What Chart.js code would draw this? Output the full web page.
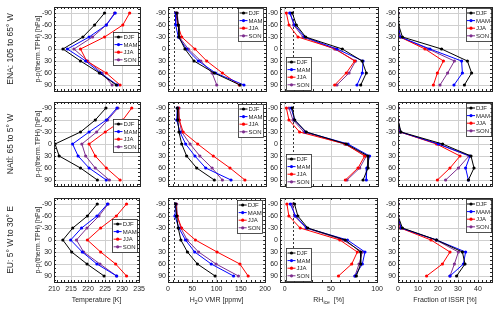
<!DOCTYPE html>
<html>
<head>
<meta charset="utf-8">
<script src="https://cdn.jsdelivr.net/npm/chart.js@4.4.1/dist/chart.umd.min.js"></script>
<style>
  body { margin: 0; background: #fff; width: 500px; height: 311px; overflow: hidden; position: relative; }
  canvas { position: absolute; }
</style>
</head>
<body>
<script>
const FONT = "'Liberation Sans', Arial, sans-serif";

const levels = [-90, -60, -30, 0, 30, 60, 90];
const yTicks = [-90, -60, -30, 0, 30, 60, 90];
const seasons = ['DJF', 'MAM', 'JJA', 'SON'];
const seasonColors = ['#000000', '#0000ff', '#ff0000', '#7e2f8e'];
const regionLabels = ['ENA: 105 to 65° W', 'NAtl: 65 to 5° W', 'EU: 5° W to 30° E'];

// rows: DJF, MAM, JJA, SON ; columns follow levels
const tempENA = [
  [224.7, 221.8, 218.4, 212.6, 217.7, 223.2, 228.1],
  [227.8, 225.2, 220.2, 213.9, 219.2, 223.5, 228.4],
  [232.0, 230.0, 224.7, 217.7, 219.5, 225.2, 229.2],
  [227.6, 225.2, 221.2, 215.8, 219.8, 224.0, 226.9]
];
const tempNAtl = [
  [225.1, 222.0, 217.7, 210.3, 211.5, 217.7, 222.6],
  [228.3, 225.2, 220.2, 215.4, 217.0, 220.2, 225.2],
  [232.6, 230.0, 224.9, 220.2, 222.0, 225.2, 229.2],
  [228.6, 225.6, 222.4, 218.1, 219.2, 222.0, 226.1]
];
const tempEU = [
  [222.7, 219.8, 215.5, 212.6, 215.2, 219.7, 224.7],
  [225.7, 222.6, 218.1, 214.9, 218.3, 222.6, 228.4],
  [231.3, 228.3, 223.7, 219.8, 223.7, 228.1, 231.3],
  [225.9, 223.2, 219.7, 216.6, 218.7, 223.5, 228.4]
];

const h2oENA = [
  [17.8, 21, 22.4, 34.7, 53, 94.5, 147],
  [15.7, 15.7, 21, 38, 62, 97, 155],
  [16, 20, 28, 55, 79, 111, 145.5],
  [19, 21, 23, 41.5, 67, 90, 99.5]
];
const h2oNAtl = [
  [19, 20, 22.4, 28, 38, 58.6, 94.5],
  [19, 17.8, 24.5, 36, 55, 77, 128.6],
  [21, 23, 31, 60.6, 92.4, 126.5, 157],
  [22.4, 23, 28, 45, 65, 90, 111]
];
const h2oEU = [
  [15.7, 17.8, 21, 26.5, 40, 60.6, 97],
  [15.7, 14.3, 22.4, 36, 55, 89, 135],
  [16, 19, 28, 56.5, 101, 148, 165],
  [17.8, 19, 26.5, 39.4, 63, 99, 145]
];

const rhiENA = [
  [8.2, 12.5, 22.5, 61.8, 83.0, 87.5, 81.5],
  [5.4, 10.7, 21.4, 56.0, 84.0, 83.2, 77.5],
  [1.8, 4.6, 14.3, 54.7, 75.0, 66.0, 53.6],
  [6.1, 9.6, 19.6, 53.6, 76.0, 69.0, 56.0]
];
const rhiNAtl = [
  [8.2, 10.7, 23.2, 66.0, 89.3, 89.3, 84.0],
  [7.0, 10.7, 22.5, 67.9, 91.0, 88.0, 87.5],
  [1.8, 4.6, 16.0, 65.0, 85.7, 78.6, 65.0],
  [4.6, 8.9, 20.7, 64.3, 87.5, 80.4, 66.8]
];
const rhiEU = [
  [10.7, 14.3, 25.0, 65.4, 82.2, 82.2, 77.5],
  [6.1, 11.8, 23.9, 67.9, 86.8, 84.0, 76.0],
  [2.5, 4.6, 16.8, 59.7, 78.6, 72.5, 58.2],
  [8.2, 10.7, 23.2, 63.2, 84.0, 80.4, 76.0]
];

const issrENA = [
  [0, 0.3, 2.2, 21.8, 34.7, 36.8, 33.2],
  [0, 0, 1.2, 16.0, 31.8, 32.2, 28.0],
  [0, 0, 1.0, 13.5, 22.7, 19.7, 17.7],
  [0, 0, 1.0, 15.2, 28.2, 24.8, 21.0]
];
const issrNAtl = [
  [0, 0, 1.5, 22.3, 36.5, 38.0, 35.2],
  [0, 0, 1.2, 20.2, 36.0, 33.8, 35.2],
  [0, 0, 1.0, 19.3, 31.0, 26.0, 19.7],
  [0, 0, 1.2, 20.0, 35.5, 30.2, 23.8]
];
const issrEU = [
  [0, 0, 2.2, 19.3, 32.2, 33.5, 29.3],
  [0, 0, 1.5, 19.3, 33.8, 32.7, 26.0],
  [0, 0, 1.2, 16.5, 26.0, 22.2, 14.3],
  [0, 0, 1.2, 19.0, 30.2, 28.2, 26.0]
];

const h2oRefLine = 12;   // dashed reference line, ppmv
const rhiRefLine = 9;    // dashed reference line, %

const panelData = [
  [tempENA, h2oENA, rhiENA, issrENA],
  [tempNAtl, h2oNAtl, rhiNAtl, issrNAtl],
  [tempEU, h2oEU, rhiEU, issrEU]
];

const xAxes = [
  { min: 210, max: 235, ticks: [210, 215, 220, 225, 230, 235], minor: 1, title: [{ t: 'Temperature [K]' }] },
  { min: 0, max: 200, ticks: [0, 50, 100, 150, 200], minor: 10, ref: h2oRefLine,
    title: [{ t: 'H' }, { t: '2', sub: true }, { t: 'O VMR [ppmv]' }] },
  { min: -5, max: 100, ticks: [0, 50, 100], minor: 10, ref: rhiRefLine,
    title: [{ t: 'RH' }, { t: 'ice', sub: true }, { t: '  [%]' }] },
  { min: 0, max: 47, ticks: [0, 10, 20, 30, 40], minor: 2, title: [{ t: 'Fraction of ISSR [%]' }] }
];

// layout
const colLeft = [54, 168, 280, 398];
const colW = [86, 98, 98, 94];
const rowTop = [7, 102, 198];
const plotH = 84;
const yAxisW = [54, 22, 22, 22];
const padTop = 7, padRight = 8;
// legend: anchor side, horizontal inset, offset of first entry from frame top
const legendCfg = [
  { side: 'right', inset: 2, first: [30, 22, 26] },
  { side: 'right', inset: 3, first: [6, 7, 7] },
  { side: 'left', inset: 6, first: [55, 57, 55] },
  { side: 'right', inset: 1.5, first: [6, 6, 6] }
];

const axisColor = '#262626';
const gridColor = '#cfcfcf';

function drawRich(ctx, parts, cx, cy, size) {
  const fonts = parts.map(p => (p.sub ? size * 0.72 : size) + 'px ' + FONT);
  let total = 0;
  const widths = parts.map((p, i) => { ctx.font = fonts[i]; const w = ctx.measureText(p.t).width; total += w; return w; });
  let x = cx - total / 2;
  ctx.textAlign = 'left';
  ctx.textBaseline = 'middle';
  parts.forEach((p, i) => {
    ctx.font = fonts[i];
    ctx.fillText(p.t, x, cy + (p.sub ? size * 0.35 : 0));
    x += widths[i];
  });
}

const panelDecor = {
  id: 'panelDecor',
  beforeDatasetsDraw(chart, args, o) {
    if (o.ref === undefined) return;
    const { ctx, chartArea: a, scales: { x } } = chart;
    const px = Math.round(x.getPixelForValue(o.ref)) + 0.5;
    ctx.save();
    ctx.strokeStyle = '#333';
    ctx.lineWidth = 1;
    ctx.setLineDash([2, 2]);
    ctx.beginPath();
    ctx.moveTo(px, a.top);
    ctx.lineTo(px, a.bottom);
    ctx.stroke();
    ctx.restore();
  },
  afterDraw(chart, args, o) {
    const { ctx, chartArea: a, scales: { x, y } } = chart;
    ctx.save();
    // minor ticks
    ctx.strokeStyle = axisColor;
    ctx.lineWidth = 1;
    ctx.beginPath();
    for (let v = Math.ceil(x.min / o.minor) * o.minor; v <= x.max; v += o.minor) {
      const px = Math.round(x.getPixelForValue(v)) + 0.5;
      ctx.moveTo(px, a.top); ctx.lineTo(px, a.top + 2);
      ctx.moveTo(px, a.bottom); ctx.lineTo(px, a.bottom - 2);
    }
    for (let v = -100; v <= 100; v += 10) {
      const py = Math.round(y.getPixelForValue(v)) + 0.5;
      ctx.moveTo(a.left, py); ctx.lineTo(a.left + 2, py);
      ctx.moveTo(a.right, py); ctx.lineTo(a.right - 2, py);
    }
    ctx.stroke();
    // frame
    ctx.strokeRect(Math.round(a.left) + 0.5, Math.round(a.top) + 0.5,
      Math.round(a.right - a.left), Math.round(a.bottom - a.top));

    // legend
    const lg = o.legend;
    const bw = 25, rowH = 7.6, bh = rowH * 4 + 3;
    const bx = lg.side === 'right' ? a.right - lg.inset - bw : a.left + lg.inset;
    const by = a.top + lg.first - 5;
    ctx.fillStyle = '#fff';
    ctx.fillRect(bx, by, bw, bh);
    ctx.strokeStyle = axisColor;
    ctx.lineWidth = 0.8;
    ctx.strokeRect(Math.round(bx) + 0.5, Math.round(by) + 0.5, bw, Math.round(bh));
    ctx.font = '6px ' + FONT;
    ctx.textBaseline = 'middle';
    ctx.textAlign = 'left';
    chart.data.datasets.forEach((ds, i) => {
      const cy = by + 5 + i * rowH;
      ctx.strokeStyle = ds.borderColor;
      ctx.lineWidth = 1;
      ctx.beginPath();
      ctx.moveTo(bx + 1.5, cy); ctx.lineTo(bx + 9.5, cy);
      ctx.stroke();
      ctx.fillStyle = ds.borderColor;
      ctx.beginPath();
      ctx.arc(bx + 5.5, cy, 1.6, 0, Math.PI * 2);
      ctx.fill();
      ctx.fillStyle = axisColor;
      ctx.fillText(ds.label, bx + 10.5, cy + 0.5);
    });

    ctx.fillStyle = axisColor;
    if (o.xTitle) drawRich(ctx, o.xTitle, (a.left + a.right) / 2, a.bottom + 18, 7);
    if (o.rowLabel) {
      ctx.save();
      ctx.translate(11, (a.top + a.bottom) / 2);
      ctx.rotate(-Math.PI / 2);
      ctx.font = '8.5px ' + FONT;
      ctx.textAlign = 'center';
      ctx.textBaseline = 'middle';
      ctx.fillText(o.rowLabel, 0, 0);
      ctx.restore();
      ctx.save();
      ctx.translate(38, (a.top + a.bottom) / 2);
      ctx.rotate(-Math.PI / 2);
      ctx.font = '7px ' + FONT;
      ctx.textAlign = 'center';
      ctx.textBaseline = 'middle';
      ctx.fillText('p-p(therm.TPH) [hPa]', 0, 0);
      ctx.restore();
    }
    ctx.restore();
  }
};

for (let r = 0; r < 3; r++) {
  for (let c = 0; c < 4; c++) {
    const ax = xAxes[c];
    const xH = r === 2 ? 30 : 7;
    const cv = document.createElement('canvas');
    cv.width = yAxisW[c] + colW[c] + padRight;
    cv.height = padTop + plotH + xH;
    cv.style.left = (colLeft[c] - yAxisW[c]) + 'px';
    cv.style.top = (rowTop[r] - padTop) + 'px';
    document.body.appendChild(cv);
    const vals = panelData[r][c];

    new Chart(cv, {
      type: 'line',
      data: {
        datasets: seasons.map((s, k) => ({
          label: s,
          data: levels.map((p, i) => ({ x: vals[k][i], y: p })),
          borderColor: seasonColors[k],
          backgroundColor: seasonColors[k],
          borderWidth: 1,
          pointRadius: 1.6,
          pointBorderWidth: 0,
          pointStyle: 'circle',
          tension: 0
        }))
      },
      options: {
        responsive: false,
        animation: false,
        devicePixelRatio: 1,
        events: [],
        layout: { padding: { top: padTop, right: padRight, left: 0, bottom: 0 } },
        scales: {
          x: {
            type: 'linear',
            min: ax.min,
            max: ax.max,
            afterBuildTicks: s => { s.ticks = ax.ticks.map(v => ({ value: v })); },
            afterFit: s => { s.height = xH; },
            grid: { color: gridColor, drawTicks: false },
            border: { display: false },
            ticks: { display: r === 2, font: { family: FONT, size: 7 }, color: axisColor, padding: 3, maxRotation: 0 }
          },
          y: {
            type: 'linear',
            reverse: true,
            min: -105,
            max: 105,
            afterBuildTicks: s => { s.ticks = yTicks.map(v => ({ value: v })); },
            afterFit: s => { s.width = yAxisW[c]; },
            grid: { color: gridColor, drawTicks: false },
            border: { display: false },
            ticks: { font: { family: FONT, size: 7 }, color: axisColor, padding: 2 }
          }
        },
        plugins: {
          legend: { display: false },
          tooltip: { enabled: false },
          panelDecor: {
            ref: ax.ref,
            minor: ax.minor,
            legend: { side: legendCfg[c].side, inset: legendCfg[c].inset, first: legendCfg[c].first[r] },
            xTitle: r === 2 ? ax.title : null,
            rowLabel: c === 0 ? regionLabels[r] : null
          }
        }
      },
      plugins: [panelDecor]
    });
  }
}
</script>
</body>
</html>
